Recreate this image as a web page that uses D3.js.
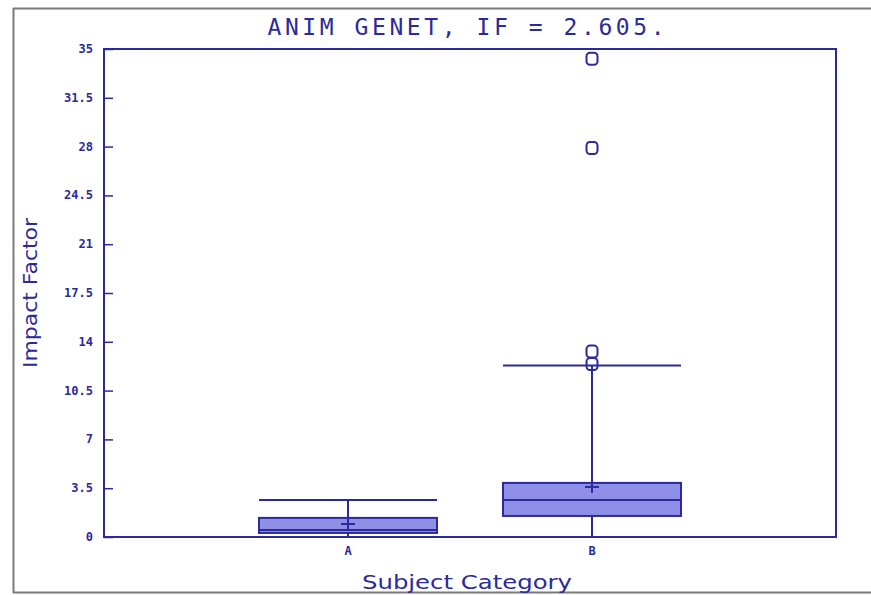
<!DOCTYPE html>
<html><head><meta charset="utf-8">
<script src="https://cdn.jsdelivr.net/npm/d3@7/dist/d3.min.js"></script>
<style>body{margin:0;background:#fff}svg{display:block}</style>
</head><body>
<svg id="c" width="871" height="595"></svg>
<script>
// Data
const categories = ["A", "B"];
const q1 = [0.29, 1.51];
const median = [0.5, 2.66];
const q3 = [1.37, 3.88];
const mean = [0.93, 3.59];
const whiskerLow = [0, 0];
const whiskerHigh = [2.66, 12.3];
const outliersB = [34.3, 27.9, 13.3, 12.4];
const outliers = [[], outliersB];
const yTicks = [0, 3.5, 7, 10.5, 14, 17.5, 21, 24.5, 28, 31.5, 35];
const title = "ANIM GENET, IF = 2.605.";

const W = 871, H = 595;
const m = {left: 104, right: 836, top: 49, bottom: 537};
const ink = "#2a2a9c", fill = "#8f8fe8";
const svg = d3.select("#c");

// outer frame
svg.append("line").attr("x1", 13).attr("x2", W).attr("y1", 8.5).attr("y2", 8.5).attr("stroke", "#7a7a7a").attr("stroke-width", 2);
svg.append("line").attr("x1", 13).attr("x2", W).attr("y1", 592.5).attr("y2", 592.5).attr("stroke", "#7a7a7a").attr("stroke-width", 2);
svg.append("line").attr("x1", 13.5).attr("x2", 13.5).attr("y1", 8).attr("y2", 593).attr("stroke", "#7a7a7a").attr("stroke-width", 2);

const y = d3.scaleLinear().domain([0, 35]).range([m.bottom, m.top]);
const x = d3.scalePoint().domain(["", ...categories, " "]).range([m.left, m.right]);
const halfW = 89;

// plot frame
svg.append("rect").attr("x", m.left).attr("y", m.top).attr("width", m.right - m.left).attr("height", m.bottom - m.top)
  .attr("fill", "none").attr("stroke", ink).attr("stroke-width", 2);

// y axis
const ya = svg.append("g").attr("transform", `translate(${m.left},0)`)
  .call(d3.axisRight(y).tickValues(yTicks).tickSize(9).tickFormat(d => d));
ya.select(".domain").remove();
ya.selectAll("line").attr("stroke", ink).attr("stroke-width", 1.5);
ya.selectAll("text").remove();
svg.append("g").selectAll("text").data(yTicks).join("text")
  .attr("x", 93).attr("y", d => y(d) + 4).attr("text-anchor", "end")
  .attr("font-family", "DejaVu Sans Mono").attr("font-weight", "bold").attr("font-size", 12).attr("fill", ink)
  .text(d => d);

// x axis labels
svg.append("g").selectAll("text").data(categories).join("text")
  .attr("x", d => x(d)).attr("y", 555).attr("text-anchor", "middle")
  .attr("font-family", "DejaVu Sans Mono").attr("font-weight", "bold").attr("font-size", 12).attr("fill", ink)
  .text(d => d);

// boxes
const idx = d3.range(categories.length);
const g = svg.append("g");
idx.forEach(i => {
  const cx = x(categories[i]);
  g.append("line").attr("x1", cx).attr("x2", cx).attr("y1", y(q3[i])).attr("y2", y(whiskerHigh[i])).attr("stroke", ink).attr("stroke-width", 2);
  g.append("line").attr("x1", cx).attr("x2", cx).attr("y1", y(q1[i])).attr("y2", y(whiskerLow[i])).attr("stroke", ink).attr("stroke-width", 2);
  g.append("line").attr("x1", cx - halfW).attr("x2", cx + halfW).attr("y1", y(whiskerHigh[i])).attr("y2", y(whiskerHigh[i])).attr("stroke", ink).attr("stroke-width", 2);
  g.append("rect").attr("x", cx - halfW).attr("width", 2 * halfW).attr("y", y(q3[i])).attr("height", y(q1[i]) - y(q3[i]))
    .attr("fill", fill).attr("stroke", ink).attr("stroke-width", 2);
  g.append("line").attr("x1", cx - halfW).attr("x2", cx + halfW).attr("y1", y(median[i])).attr("y2", y(median[i])).attr("stroke", ink).attr("stroke-width", 2);
  g.append("line").attr("x1", cx - 7).attr("x2", cx + 7).attr("y1", y(mean[i])).attr("y2", y(mean[i])).attr("stroke", ink).attr("stroke-width", 2);
  g.append("line").attr("x1", cx).attr("x2", cx).attr("y1", y(mean[i]) - 6).attr("y2", y(mean[i]) + 6).attr("stroke", ink).attr("stroke-width", 2);
  g.selectAll(null).data(outliers[i]).join("rect")
    .attr("x", cx - 5.5).attr("y", d => y(d) - 6).attr("width", 11).attr("height", 12).attr("rx", 3.5)
    .attr("fill", "none").attr("stroke", ink).attr("stroke-width", 2);
});

// titles
svg.append("text").attr("x", 466).attr("y", 35).attr("text-anchor", "middle")
  .attr("font-family", "DejaVu Sans Mono").attr("font-size", 23).attr("fill", ink)
  .attr("textLength", 397).attr("lengthAdjust", "spacing").text(title);
svg.append("text").attr("x", 467).attr("y", 589).attr("text-anchor", "middle")
  .attr("font-family", "DejaVu Sans").attr("font-size", 19).attr("fill", ink)
  .attr("textLength", 210).attr("lengthAdjust", "spacingAndGlyphs").text("Subject Category");
svg.append("text").attr("transform", "translate(37,293) rotate(-90)").attr("text-anchor", "middle")
  .attr("font-family", "DejaVu Sans").attr("font-size", 19).attr("fill", ink)
  .attr("textLength", 150).attr("lengthAdjust", "spacingAndGlyphs").text("Impact Factor");
</script>
</body></html>
